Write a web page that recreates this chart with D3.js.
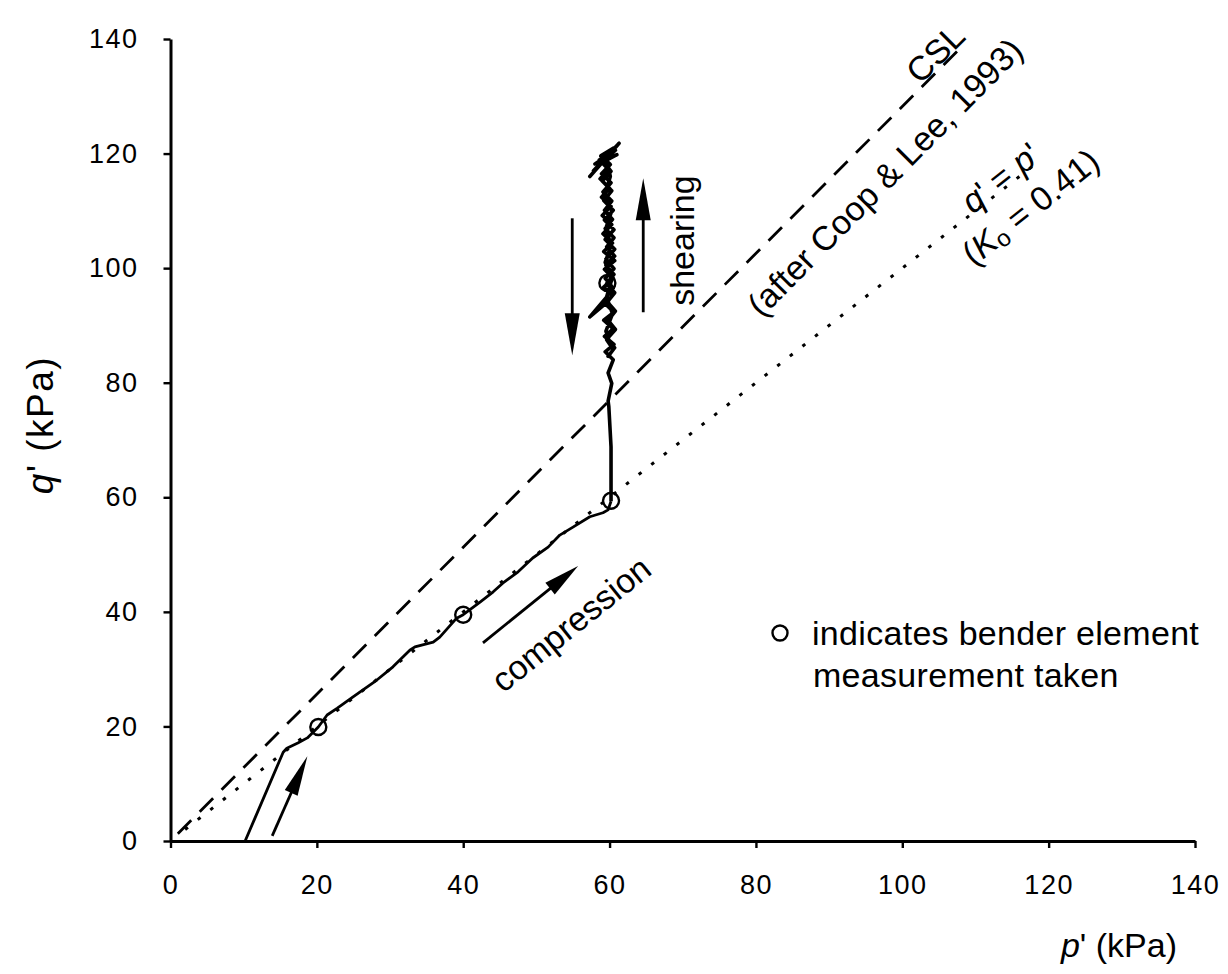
<!DOCTYPE html>
<html>
<head>
<meta charset="utf-8">
<script src="https://cdn.jsdelivr.net/npm/d3@7"></script>
<style>
  html, body { margin: 0; padding: 0; background: #fff; }
  svg { display: block; }
  text { font-family: "Liberation Sans", Arial, sans-serif; fill: #000; }
</style>
</head>
<body>
<svg id="chart" width="1228" height="974"></svg>
<script>
// ---------- data ----------
const xTicks = [0, 20, 40, 60, 80, 100, 120, 140];
const yTicks = [0, 20, 40, 60, 80, 100, 120, 140];

// compression stage stress path p', q' (kPa)
const compP = [10.2, 15.4, 15.9, 17.4, 18.7, 20.2, 21.4, 22.8, 24.9, 28.2, 30.4, 32.7, 33.4, 35.9, 36.8, 39.1, 40.0, 42.3, 44.1, 45.4, 47.5, 49.5, 51.6, 53.2, 55.0, 57.3, 59.1, 59.8, 60.2];
const compQ = [0.0, 15.5, 16.2, 17.1, 18.0, 19.9, 22.0, 23.2, 25.1, 28.1, 30.4, 33.3, 33.9, 34.7, 35.6, 38.9, 39.5, 41.7, 43.5, 45.0, 47.0, 49.4, 51.3, 53.4, 54.8, 56.6, 57.3, 57.8, 59.3];

// shearing stage stress path p', q' (kPa)
const shearP = [60.2, 60.2, 60.2, 59.9, 59.8, 60.3, 59.8, 60.5,
  59.4, 60.6, 59.3, 60.5, 59.2, 60.6, 59.4, 60.4, 59.2, 60.5, 59.3, 60.7, 59.2, 60.4, 59.1, 60.3, 59.0, 60.2, 58.9, 60.0, 58.7, 59.8, 58.6, 60.1, 61.3,
  57.3, 61.1, 57.8, 60.8, 58.0, 61.0,
  59.2, 60.2, 59.0, 60.3, 59.2, 60.5, 59.3, 60.6, 59.4, 60.7, 59.5, 60.6, 59.4, 60.5, 59.5, 57.3, 59.6, 60.7, 59.5, 60.6, 59.6, 60.5, 59.8,
  60.7, 59.7, 60.8, 59.8, 60.8, 59.7, 60.7, 59.6, 60.6, 59.5, 60.7, 59.6, 60.6, 59.4, 60.4, 59.3, 60.3, 59.1, 60.2, 58.9, 60.1, 58.8, 60.6,
  59.6, 60.1, 59.4, 60.3, 59.5, 60.2, 59.4, 60.3, 59.6, 60.4, 59.5, 60.3];
const shearQ = [59.3, 60.8, 68.8, 75.8, 76.8, 79.9, 81.7, 84.0,
  85.4, 86.7, 88.1, 89.4, 90.9, 92.3, 93.8, 95.2, 96.7, 98.2, 99.8, 101.3, 102.9, 104.4, 106.0, 107.6, 109.2, 110.8, 112.4, 114.0, 115.6, 117.3, 118.9, 120.2, 121.8,
  116.0, 121.5, 117.0, 120.6, 118.2, 119.8,
  118.6, 116.9, 115.2, 113.5, 111.8, 110.1, 108.4, 106.7, 105.0, 103.3, 101.6, 99.9, 98.2, 96.5, 94.8, 91.5, 94.0, 92.6, 90.9, 89.2, 87.5, 85.8, 84.6,
  86.1, 87.7, 89.3, 90.9, 92.5, 94.1, 95.7, 97.3, 98.9, 100.5, 102.1, 103.7, 105.3, 106.9, 108.5, 110.1, 111.7, 113.3, 114.9, 116.5, 118.1, 119.6, 121.0,
  119.0, 116.0, 113.0, 110.0, 107.0, 104.0, 101.0, 98.0, 95.0, 92.0, 89.0, 86.0];

// bender element measurement points
const benderP = [20.2, 40.0, 60.2, 59.7];
const benderQ = [19.9, 39.5, 59.4, 97.4];

// critical state line (after Coop & Lee, 1993)
const cslP = [1.0, 108.4];
const cslQ = [1.28, 139.0];

// K0 line
const k0P = [2.0, 118.5];
const k0Q = [2.0, 118.5];

// ---------- drawing ----------
const svg = d3.select("#chart");
const x = d3.scaleLinear().domain([0, 140]).range([170.5, 1195]);
const y = d3.scaleLinear().domain([0, 140]).range([841, 39]);

const line = d3.line().x(d => x(d[0])).y(d => y(d[1]));
const zip = (a, b) => a.map((v, i) => [v, b[i]]);

// axes
const xAxis = d3.axisBottom(x).tickValues(xTicks).tickSize(7).tickSizeOuter(0).tickPadding(27);
const yAxis = d3.axisLeft(y).tickValues(yTicks).tickSize(7).tickSizeOuter(0).tickPadding(25);

const gx = svg.append("g").attr("transform", `translate(0,${y(0)})`).call(xAxis);
const gy = svg.append("g").attr("transform", `translate(${x(0)},0)`).call(yAxis);
[gx, gy].forEach(g => {
  g.select(".domain").attr("stroke", "#000").attr("stroke-width", 3);
  g.selectAll(".tick line").attr("stroke", "#000").attr("stroke-width", 2.4);
  g.selectAll(".tick text").attr("font-size", 27).attr("letter-spacing", 1.5)
    .attr("font-family", "Liberation Sans, Arial, sans-serif").attr("fill", "#000");
});

// CSL dashed
svg.append("path").attr("d", line(zip(cslP, cslQ)))
  .attr("fill", "none").attr("stroke", "#000").attr("stroke-width", 2.8)
  .attr("stroke-dasharray", "19,12");

// K0 dotted
svg.append("path").attr("d", line(zip(k0P, k0Q)))
  .attr("fill", "none").attr("stroke", "#000").attr("stroke-width", 3)
  .attr("stroke-dasharray", "3.5,12.5");

// stress paths
svg.append("path").attr("d", line(zip(compP, compQ)))
  .attr("fill", "none").attr("stroke", "#000").attr("stroke-width", 2.8).attr("stroke-linejoin", "round");
svg.append("path").attr("d", line(zip(shearP, shearQ)))
  .attr("fill", "none").attr("stroke", "#000").attr("stroke-width", 3.6).attr("stroke-linejoin", "round");

// bender markers
svg.selectAll("circle.bender").data(zip(benderP, benderQ)).enter().append("circle")
  .attr("class", "bender")
  .attr("cx", d => x(d[0])).attr("cy", d => y(d[1])).attr("r", 8)
  .attr("fill", "none").attr("stroke", "#000").attr("stroke-width", 2.4);

// arrows (annotation, data coordinates)
function arrow(p1, q1, p2, q2, headLen, headW) {
  const x1 = x(p1), y1 = y(q1), x2 = x(p2), y2 = y(q2);
  const dx = x2 - x1, dy = y2 - y1, L = Math.hypot(dx, dy);
  const ux = dx / L, uy = dy / L, nx = -uy, ny = ux;
  const bx = x2 - ux * headLen, by = y2 - uy * headLen;
  svg.append("line").attr("x1", x1).attr("y1", y1).attr("x2", bx + ux * 2).attr("y2", by + uy * 2)
    .attr("stroke", "#000").attr("stroke-width", 2.8);
  svg.append("path")
    .attr("d", `M${x2},${y2}L${bx + nx * headW / 2},${by + ny * headW / 2}L${bx - nx * headW / 2},${by - ny * headW / 2}Z`)
    .attr("fill", "#000");
}
arrow(13.9, 0.9, 18.7, 14.8, 40, 14);     // small initial arrow
arrow(42.7, 34.6, 55.7, 48.0, 36, 15);    // compression
arrow(54.9, 108.7, 54.9, 84.8, 42, 15);   // down
arrow(64.6, 92.3, 64.6, 115.7, 42, 15);   // shearing up

// text annotations
function label(px, py, txt, angle, size, anchor) {
  const t = svg.append("text")
    .attr("transform", `translate(${px},${py}) rotate(${angle})`)
    .attr("font-size", size)
    .attr("text-anchor", anchor || "middle")
    .attr("dominant-baseline", "central");
  return t.text(txt);
}

label(x(104.5), y(137.5), "CSL", -45, 34);
label(x(97.6), y(115.9), "(after Coop & Lee, 1993)", -45.3, 34);

// q' = p'
{
  const t = svg.append("text")
    .attr("transform", `translate(${x(113.4)},${y(115.8)}) rotate(-38.4)`)
    .attr("font-size", 34).attr("text-anchor", "middle").attr("dominant-baseline", "central");
  t.append("tspan").attr("font-style", "italic").text("q");
  t.append("tspan").text("' = ");
  t.append("tspan").attr("font-style", "italic").text("p");
  t.append("tspan").text("'");
}
// (K0 = 0.41)
{
  const t = svg.append("text")
    .attr("transform", `translate(${x(117.5)},${y(110.7)}) rotate(-38.4)`)
    .attr("font-size", 34).attr("text-anchor", "middle").attr("dominant-baseline", "central");
  t.append("tspan").text("(");
  t.append("tspan").attr("font-style", "italic").text("K");
  t.append("tspan").attr("font-size", 24).attr("dy", 7).text("o");
  t.append("tspan").attr("dy", -7).text(" = 0.41)");
}

label(x(69.9), y(104.8), "shearing", -90, 34);
label(x(54.7), y(37.9), "compression", -38.8, 34);

// legend
svg.append("circle").attr("cx", 780).attr("cy", 633).attr("r", 7.5)
  .attr("fill", "none").attr("stroke", "#000").attr("stroke-width", 2.4);
svg.append("text").attr("x", 812).attr("y", 645).attr("font-size", 34).attr("letter-spacing", 0.3).text("indicates bender element");
svg.append("text").attr("x", 813).attr("y", 687).attr("font-size", 34).attr("letter-spacing", 0.3).text("measurement taken");

// axis titles
{
  const t = svg.append("text").attr("x", 1177).attr("y", 957).attr("font-size", 34).attr("text-anchor", "end");
  t.append("tspan").attr("font-style", "italic").text("p");
  t.append("tspan").text("' (kPa)");
}
{
  const t = svg.append("text").attr("transform", "translate(53,425) rotate(-90)")
    .attr("font-size", 37).attr("letter-spacing", 1.5).attr("text-anchor", "middle");
  t.append("tspan").attr("font-style", "italic").text("q");
  t.append("tspan").text("' (kPa)");
}
</script>
</body>
</html>
